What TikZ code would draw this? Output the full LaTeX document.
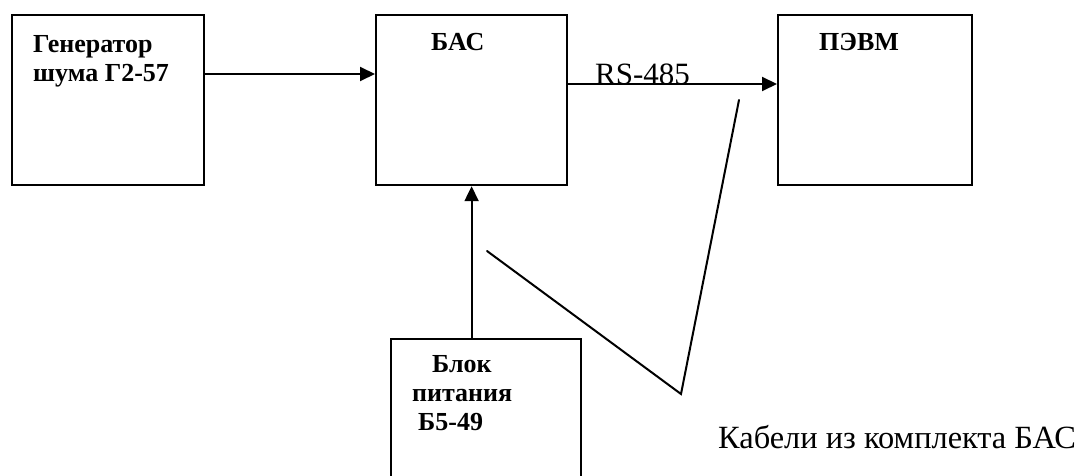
\documentclass[tikz,border=0pt]{standalone}
\usepackage{fontspec}
\setmainfont{Liberation Serif}
\usepackage{tikz}
\usetikzlibrary{arrows.meta,calc,positioning}

\begin{document}
\begin{tikzpicture}[x=1pt,y=-1pt,>={Triangle[length=15pt,width=14pt]},line cap=round,
 unitbox/.style={draw,line width=2.2pt,inner sep=0pt,anchor=north west},
 boxtext/.style={inner sep=0pt,anchor=north west,align=left,font=\fontsize{26}{29}\selectfont\bfseries},
 plaintext/.style={inner sep=0pt,anchor=base west,font=\fontsize{31}{36}\selectfont},
 conn/.style={->,line width=2pt},
 cable/.style={line width=2pt}]
\useasboundingbox (0,0) rectangle (1077,476);
\clip (0,0) rectangle (1077,476);
% blocks
\node[unitbox,minimum width=192pt,minimum height=170pt] (gen) at (11,14) {};
\node[unitbox,minimum width=191pt,minimum height=170pt] (bas) at (375,14) {};
\node[unitbox,minimum width=194pt,minimum height=170pt] (pevm) at (777,14) {};
\node[unitbox,minimum width=190pt,minimum height=160pt] (psu) at (390,338) {};
% block texts
\node[boxtext] (gentext) at (33,35) {Генератор\\шума Г2-57};
\node[boxtext] (bastext) at (431,33) {БАС};
\node[boxtext] (pevmtext) at (819,33) {ПЭВМ};
\node[boxtext] (psutext) at (412,355) {\hspace{20pt}Блок\\питания\\\hspace{6pt}Б5-49};
% links
\draw[conn] ([yshift=-60pt]gen.north east) -- ([yshift=-60pt]bas.north west);
\draw[conn] ([yshift=-70pt]bas.north east) -- ([yshift=-70pt]pevm.north west);
\node[plaintext] (rs) at (595,85) {RS-485};
\draw[conn] (psu.north -| bas.south) -- (bas.south);
% cables
\coordinate (cabA) at (487,251);
\coordinate (cabB) at (681,394);
\coordinate (cabC) at (739,100);
\draw[cable] (cabA) -- (cabB) -- (cabC);
\node[plaintext,font=\fontsize{32.4}{36}\selectfont] (cables) at (718,448) {Кабели из комплекта БАС};
\end{tikzpicture}
\end{document}
